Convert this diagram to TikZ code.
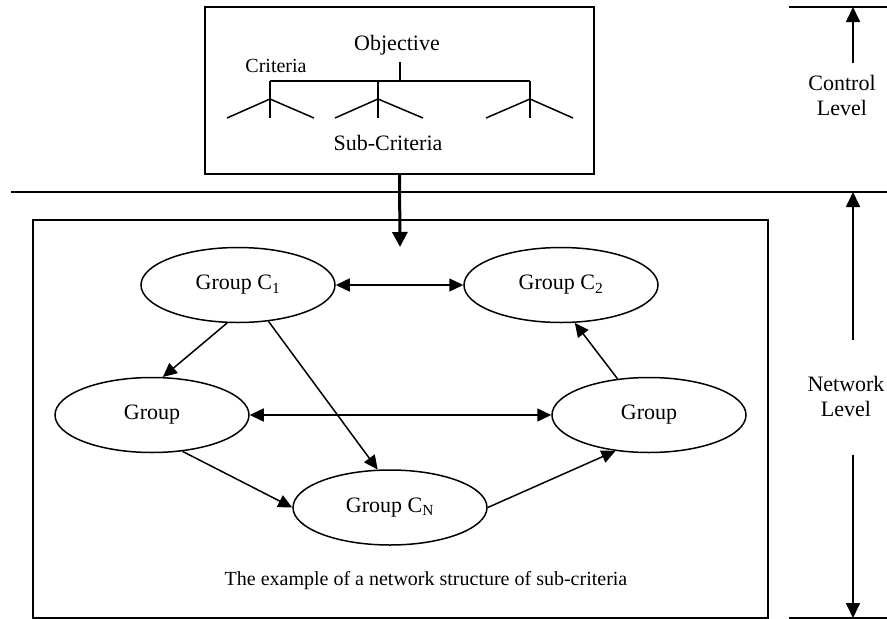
\documentclass[tikz,border=0pt]{standalone}
\usepackage{fontspec}
\setmainfont{Liberation Serif}
\usetikzlibrary{arrows.meta,shapes.geometric}
\begin{document}
\begin{tikzpicture}[x=1pt,y=-1pt,
  thinline/.style={line width=1.5pt},
  grp/.style={ellipse,draw,line width=1.5pt,minimum width=194pt,minimum height=75pt,inner sep=0pt,font=\fontsize{22}{26}\selectfont},
  conn/.style={line width=1.5pt,-{Triangle[length=14pt,width=13pt]}},
  bconn/.style={line width=1.5pt,{Triangle[length=14pt,width=13pt]}-{Triangle[length=14pt,width=13pt]}},
  lbl/.style={inner sep=0pt,font=\fontsize{22}{25}\selectfont,align=center},
  slbl/.style={inner sep=0pt,font=\fontsize{20}{24}\selectfont},
  frame/.style={draw,line width=1.7pt,inner sep=0pt}]
\useasboundingbox (0,0) rectangle (887,619);
% frames
\node[frame,minimum width=389pt,minimum height=167pt] (ctrl) at (399.5,90.5) {};
\node[frame,minimum width=735pt,minimum height=398pt] (net) at (400.5,419) {};
% level lines
\coordinate (hl) at (11,192); \coordinate (hr) at (887,192);
\draw[thinline] (hl) -- (hr);
\coordinate (tl) at (789,7); \coordinate (tr) at (887,7);
\draw[thinline] (tl) -- (tr);
\coordinate (bl) at (789,618); \coordinate (br) at (887,618);
\draw[thinline] (bl) -- (br);
% control box contents
\node[lbl] (obj) at (397,45) {Objective};
\node[slbl] (crit) at (276,66) {Criteria};
\node[lbl] (sub) at (388,143) {Sub-Criteria};
\coordinate (o1) at (400,62); \coordinate (o2) at (400,81);
\coordinate (ha) at (270,81); \coordinate (hb) at (530,81);
\draw[thinline] (o1) -- (o2);
\draw[thinline] (ha) -- (hb);
\foreach \x/\l/\r in {270/227/314, 378/335/423, 530/486/573}{
  \draw[thinline] (\x,81) -- (\x,118);
  \draw[thinline] (\l,118) -- (\x,99) -- (\r,118);
}
% main arrow
\coordinate (netin) at (400,247);
\draw[line width=3pt,-{Triangle[length=15pt,width=15pt]}] (ctrl.south) -- (netin);
% groups
\node[grp] (c1) at (238,285) {Group C\textsubscript{1}};
\node[grp] (c2) at (561,285) {Group C\textsubscript{2}};
\node[grp] (gl) at (152,415) {Group};
\node[grp] (gr) at (649,415) {Group};
\node[grp] (cn) at (390,507.5) {Group C\textsubscript{N}};
\draw[bconn] (c1.east) -- (c2.west);
\draw[bconn] (gl.east) -- (gr.west);
\draw[conn] (c1.-106) -- (gl.74);
\draw[conn] (c1.-50) -- (cn.108);
\draw[conn] (gr.131) -- (c2.-70);
\draw[conn] (gl.-50) -- (cn.west);
\draw[conn] (cn.east) -- (gr.-133);
\node[slbl] (cap) at (426,581) {The example of a network structure of sub-criteria};
% level labels
\node[lbl] (cl) at (842,95) {Control\\Level};
\node[lbl] (nl) at (846,396) {Network\\Level};
\coordinate (ca) at (853,63);
\draw[line width=1.7pt,-{Triangle[length=15pt,width=14pt]}] (ca) -- (tl -| ca);
\coordinate (na) at (853,340);
\draw[line width=1.7pt,-{Triangle[length=15pt,width=14pt]}] (na) -- (hl -| na);
\coordinate (nb) at (853,455);
\draw[line width=1.7pt,-{Triangle[length=15pt,width=14pt]}] (nb) -- (bl -| nb);
\end{tikzpicture}
\end{document}
